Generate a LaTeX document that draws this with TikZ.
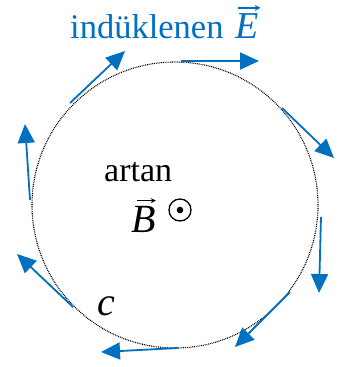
\documentclass[tikz,border=0pt]{standalone}
\usepackage{fontspec}
\setmainfont{Liberation Serif}
\usetikzlibrary{arrows.meta}
\definecolor{eblue}{RGB}{0,112,192}
\tikzset{
  efield/.style={draw=eblue, line width=1.8pt, -{Triangle[length=19pt,width=17pt]}},
  loop/.style={draw=black, line width=1.1pt, dash pattern=on 0.9pt off 0.9pt},
  lbl/.style={inner sep=0pt, anchor=base west}
}
\begin{document}
\begin{tikzpicture}[x=1pt,y=-1pt]
\useasboundingbox (0,0) rectangle (352,367);
\node[loop, circle, minimum size=286pt, inner sep=0pt] (C) at (175,205) {};
% field arrows
\coordinate (a1) at (70,103);  \coordinate (b1) at (125,51);
\coordinate (a2) at (181,61);  \coordinate (b2) at (259,61);
\coordinate (a3) at (282,108); \coordinate (b3) at (334,158);
\coordinate (a4) at (321,217); \coordinate (b4) at (319,293);
\coordinate (a5) at (290,292); \coordinate (b5) at (235,347);
\coordinate (a6) at (178,348); \coordinate (b6) at (101,352);
\coordinate (a7) at (73,307);  \coordinate (b7) at (17,254);
\coordinate (a8) at (30,200);  \coordinate (b8) at (25,124);
\foreach \i in {1,...,8} { \draw[efield] (a\i) -- (b\i); }
% labels
\node[lbl, text=eblue, font=\fontsize{34.5}{40}\selectfont] (title) at (70,38) {indüklenen};
\node[lbl, text=eblue, font=\fontsize{38}{44}\selectfont] (E) at (235,38) {\textit{E}};
\draw[eblue, line width=1.2pt, -{Stealth[length=6pt,width=6pt]}] ([xshift=3pt,yshift=5pt]E.north west) -- ([xshift=2pt,yshift=5pt]E.north east);
\node[lbl, font=\fontsize{34}{40}\selectfont] (artan) at (104,181) {artan};
\node[lbl, font=\fontsize{40}{44}\selectfont] (B) at (131,232) {\textit{B}};
\draw[line width=1.1pt, -{Stealth[length=5pt,width=5pt]}] ([xshift=6pt,yshift=5pt]B.north west) -- ([xshift=0pt,yshift=5pt]B.north east);
\node[circle, draw, line width=1.3pt, minimum size=22pt, inner sep=0pt] (odot) at (180,210) {};
\fill (odot.center) circle (3.3pt);
\node[lbl, font=\fontsize{40}{44}\selectfont] (c) at (97,315) {\textit{c}};
\end{tikzpicture}
\end{document}
